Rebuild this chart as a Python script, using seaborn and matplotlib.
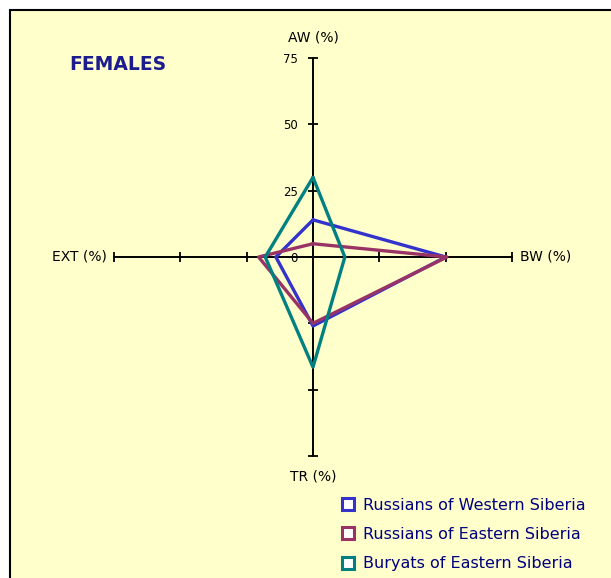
import pandas as pd
import matplotlib.pyplot as plt
import seaborn as sns
from matplotlib.lines import Line2D
from matplotlib.patches import Rectangle

# Radar axes (clockwise from top) and their directions on the cross
axis_names = ['AW (%)', 'BW (%)', 'TR (%)', 'EXT (%)']
axis_dirs = [(0, 1), (1, 0), (0, -1), (-1, 0)]

groups = ['Russians of Western Siberia', 'Russians of Eastern Siberia', 'Buryats of Eastern Siberia']
west_rus = [14, 50, 26, 14]
east_rus = [5, 50.5, 25, 20.5]
buryats = [30, 12, 41.5, 18]
colors = ['#3333cc', '#993366', '#008080']

ticks = [0, 25, 50, 75]
r_max = 75

# Build a long table of polygon vertices (closed) for seaborn
rows = []
for name, vals in zip(groups, [west_rus, east_rus, buryats]):
    pts = list(zip(vals, axis_dirs)) + [(vals[0], axis_dirs[0])]
    for i, (v, (dx, dy)) in enumerate(pts):
        rows.append({'group': name, 'order': i, 'x': v * dx, 'y': v * dy})
df = pd.DataFrame(rows)

sns.set_style('white')
plt.rcParams['font.family'] = ['DejaVu Sans']

W, H, dpi = 611, 578, 100
fig = plt.figure(figsize=(W / dpi, H / dpi), dpi=dpi)
fig.patch.set_facecolor('white')

ax = fig.add_axes([0, 0, 1, 1])
ax.patch.set_visible(False)

# Chart area background with black border
ax.add_patch(Rectangle((10 / W, -0.05), 1.1, 1 - 10 / H + 0.05, transform=fig.transFigure,
                       facecolor='#ffffcc', edgecolor='black', linewidth=1.5, zorder=0, clip_on=False))

# pixel geometry of the cross
cx, cy = 313, 257
ppu = 199 / r_max
ax.set_xlim(-cx / ppu, (W - cx) / ppu)
ax.set_ylim(-(H - cy) / ppu, cy / ppu)

sns.lineplot(data=df, x='x', y='y', hue='group', hue_order=groups, palette=colors,
             sort=False, estimator=None, units='group', linewidth=2.4, legend=False, ax=ax, zorder=3)

for s in ['top', 'right']:
    ax.spines[s].set_visible(False)
for s in ['left', 'bottom']:
    ax.spines[s].set_position(('data', 0))
    ax.spines[s].set_bounds(-r_max, r_max)
    ax.spines[s].set_linewidth(1.4)
    ax.spines[s].set_color('black')
    ax.spines[s].set_zorder(2)

all_ticks = [-t for t in ticks[:0:-1]] + ticks
ax.set_xticks([t for t in all_ticks if t != 0])
ax.set_yticks(all_ticks)
ax.set_xticklabels([])
ax.set_yticklabels([str(t) if t >= 0 else '' for t in all_ticks])
ax.tick_params(bottom=True, left=True, direction='inout', length=6.5, width=1.3, color='black',
               labelcolor='black', labelsize=8.5, pad=7.5)
ax.set_xlabel('')
ax.set_ylabel('')

lab_kw = dict(fontsize=10, color='black', va='center')
ax.text(0, 82.9, axis_names[0], ha='center', **lab_kw)
ax.text(78, 0, axis_names[1], ha='left', **lab_kw)
ax.text(0, -82.9, axis_names[2], ha='center', **lab_kw)
ax.text(-77.5, 0, axis_names[3], ha='right', **lab_kw)

fig.text(69 / W, 1 - 64 / H, 'FEMALES', fontsize=13.5, fontweight='bold', color='#1c1c8f',
         va='center', ha='left')

handles = [Line2D([], [], linestyle='none', marker='s', markersize=8, markeredgewidth=2.2,
                  markeredgecolor=c, markerfacecolor='white') for c in colors]
leg = fig.legend(handles, groups, loc='upper left', bbox_to_anchor=(341 / W, 1 - 498 / H),
                 frameon=False, fontsize=11.5, handlelength=0.9, handletextpad=0.45,
                 labelspacing=0.88, borderpad=0, borderaxespad=0)
for t in leg.get_texts():
    t.set_color('#000080')

plt.savefig('out.png', dpi=dpi)
